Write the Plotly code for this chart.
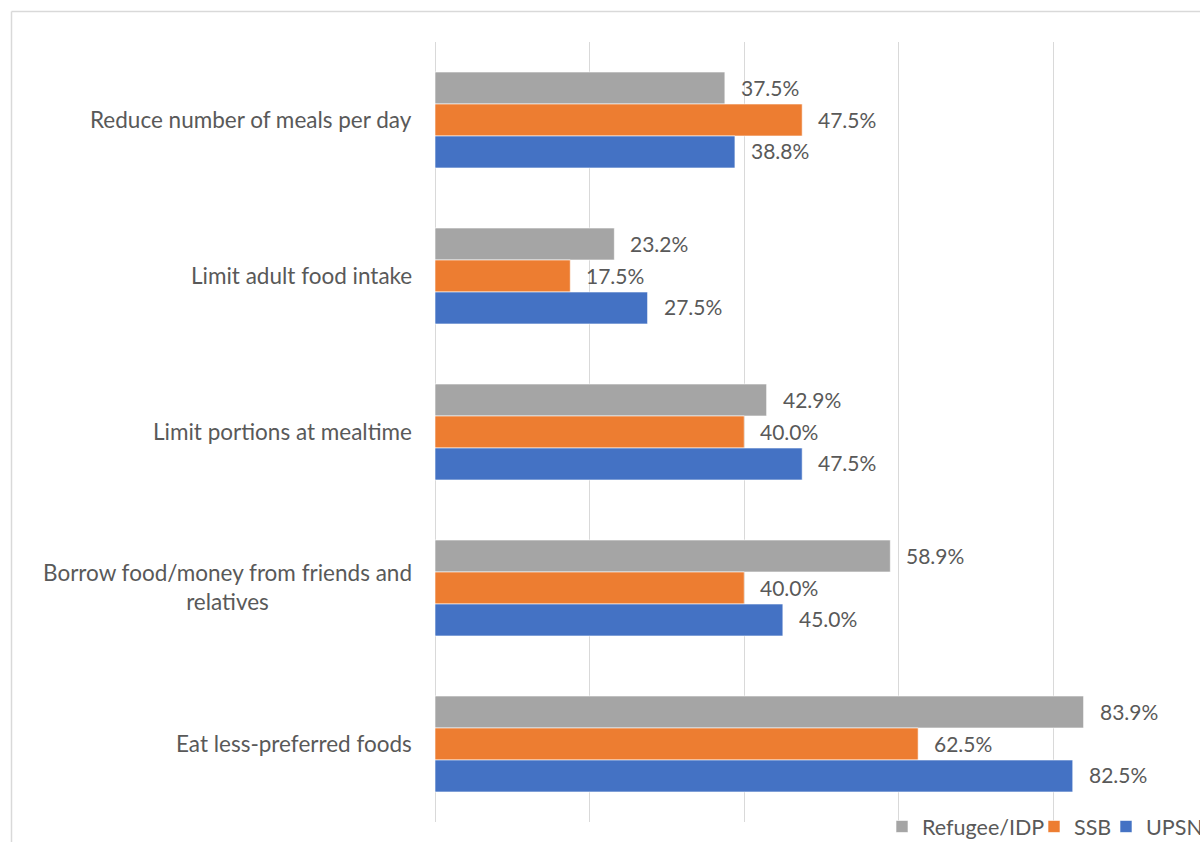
import plotly.graph_objects as go

# Coping strategies (top to bottom) and share of households per group
categories = [
    "Reduce number of meals per day",
    "Limit adult food intake",
    "Limit portions at mealtime",
    "Borrow food/money from friends and<br>relatives",
    "Eat less-preferred foods",
]
series_names = ["Refugee/IDP", "SSB", "UPSNP"]
refugee_idp = [37.5, 23.2, 42.9, 58.9, 83.9]
ssb = [47.5, 17.5, 40.0, 40.0, 62.5]
upsnp = [38.8, 27.5, 47.5, 45.0, 82.5]
series_values = [refugee_idp, ssb, upsnp]
series_colors = ["#A5A5A5", "#ED7D31", "#4472C4"]

FONT = "Lato, 'Open Sans', sans-serif"
TEXT_COLOR = "#595959"
GRID = "#D9D9D9"
BARGAP = 0.385

L, R, T, B = 435, 0, 42, 20
W, H = 1200, 842
pw, ph = W - L - R, H - T - B
px = lambda x: (x - L) / pw
py = lambda y: 1 - (y - T) / ph

# each legend entry gets its own legend box so it can be placed freely
legend_ids = ["legend", "legend2", "legend3"]
legend_left = [882, 1034, 1106]

fig = go.Figure()
for name, vals, col, lid in zip(series_names, series_values, series_colors, legend_ids):
    fig.add_trace(go.Bar(
        y=list(range(len(categories))),
        x=vals,
        name=name,
        orientation="h",
        legend=lid,
        marker=dict(color=col, line=dict(color="white", width=0.6)),
        hoverinfo="x+name",
    ))

# value labels to the right of each bar
bar_w = (1 - BARGAP) / len(series_names)
annotations = []
for si, vals in enumerate(series_values):
    off = (si - (len(series_names) - 1) / 2) * bar_w
    for ci, v in enumerate(vals):
        annotations.append(dict(
            x=v, y=ci + off, xref="x", yref="y",
            text=f"{v:.1f}%", showarrow=False,
            xanchor="left", yanchor="middle", xshift=14, yshift=1,
            font=dict(family=FONT, size=21, color=TEXT_COLOR),
        ))

# category labels, centred line by line
for ci, cat in enumerate(categories):
    annotations.append(dict(
        x=0, y=ci, xref="x", yref="y",
        text=cat, showarrow=False, align="center",
        xanchor="right", yanchor="middle", xshift=-21, yshift=1,
        font=dict(family=FONT, size=22.5, color=TEXT_COLOR),
    ))

legend_style = dict(
    orientation="h", xanchor="left", y=py(806), yanchor="top",
    font=dict(family=FONT, size=21.5, color=TEXT_COLOR),
    bgcolor="rgba(0,0,0,0)", borderwidth=0,
)
legends = {lid: dict(legend_style, x=px(xl)) for lid, xl in zip(legend_ids, legend_left)}

fig.update_layout(
    width=W, height=H,
    margin=dict(l=L, r=R, t=T, b=B, pad=0, autoexpand=False),
    paper_bgcolor="white", plot_bgcolor="white",
    barmode="group", bargap=BARGAP, bargroupgap=0,
    font=dict(family=FONT, color=TEXT_COLOR),
    annotations=annotations,
    xaxis=dict(
        range=[0, 98.96], dtick=20, tick0=0,
        showticklabels=False, ticks="",
        showgrid=True, gridcolor=GRID, gridwidth=1.3,
        zeroline=True, zerolinecolor=GRID, zerolinewidth=1.3,
        showline=False, fixedrange=True, automargin=False,
    ),
    yaxis=dict(
        range=[len(categories) - 0.5, -0.5],
        showticklabels=False, ticks="",
        showgrid=False, zeroline=False, showline=False, automargin=False,
    ),
    showlegend=True,
    shapes=[
        dict(type="line", xref="paper", yref="paper",
             x0=px(11.5), x1=px(1210), y0=py(11.5), y1=py(11.5),
             line=dict(color=GRID, width=1.5), layer="below"),
        dict(type="line", xref="paper", yref="paper",
             x0=px(11.5), x1=px(11.5), y0=py(11.5), y1=py(860),
             line=dict(color=GRID, width=1.5), layer="below"),
    ],
    **legends,
)

fig.write_html("out.html")
